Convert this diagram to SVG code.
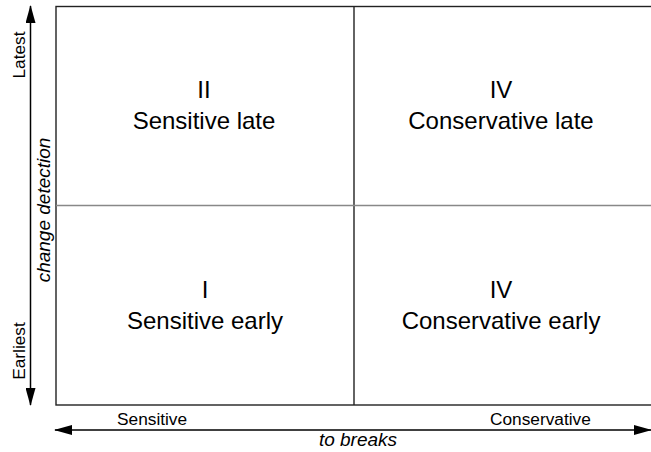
<svg xmlns="http://www.w3.org/2000/svg" width="651" height="452" viewBox="0 0 651 452">
  <style>
    text { font-family: "Liberation Sans", Arial, sans-serif; fill: #000; }
    .q { font-size: 24px; text-anchor: middle; }
    .ax { font-size: 17.3px; }
    .it { font-style: italic; font-size: 19px; text-anchor: middle; }
    .frame { fill: none; stroke: #222; stroke-width: 1.4; }
    .axis { stroke: #000; stroke-width: 1.5; fill: none; }
  </style>
  <defs>
    <marker id="head" viewBox="0 0 18 10" refX="17" refY="5" markerWidth="18" markerHeight="10" markerUnits="userSpaceOnUse" orient="auto-start-reverse">
      <path d="M0,0 L18,5 L0,10 Z" fill="#000"/>
    </marker>
  </defs>

  <!-- quadrant frame -->
  <g id="grid">
    <rect class="frame" x="56" y="6.5" width="600" height="398.5"/>
    <line x1="354" y1="6.5" x2="354" y2="405" stroke="#222" stroke-width="1.4"/>
    <line x1="56" y1="205.5" x2="651" y2="205.5" stroke="#888" stroke-width="1.4"/>
  </g>

  <g id="q-sensitive-late">
    <text class="q" x="204" y="98">II</text>
    <text class="q" x="204" y="129">Sensitive late</text>
  </g>
  <g id="q-conservative-late">
    <text class="q" x="501" y="98">IV</text>
    <text class="q" x="501" y="129">Conservative late</text>
  </g>
  <g id="q-sensitive-early">
    <text class="q" x="205" y="298">I</text>
    <text class="q" x="205" y="329">Sensitive early</text>
  </g>
  <g id="q-conservative-early">
    <text class="q" x="501" y="298">IV</text>
    <text class="q" x="501" y="329">Conservative early</text>
  </g>

  <!-- axes -->
  <g id="connectors">
    <line class="axis" x1="30.5" y1="204" x2="30.5" y2="6" marker-end="url(#head)"/>
    <line class="axis" x1="30.5" y1="204" x2="30.5" y2="405" marker-end="url(#head)"/>
    <line class="axis" x1="353" y1="430" x2="55" y2="430" marker-end="url(#head)"/>
    <line class="axis" x1="353" y1="430" x2="651" y2="430" marker-end="url(#head)"/>
  </g>

  <g id="axis-labels">
    <text class="ax" text-anchor="middle" transform="translate(25,55) rotate(-90)">Latest</text>
    <text class="ax" text-anchor="middle" transform="translate(25,351) rotate(-90)">Earliest</text>
    <text class="it" transform="translate(50,210) rotate(-90)">change detection</text>
    <text class="ax" x="117" y="425">Sensitive</text>
    <text class="ax" x="490" y="425">Conservative</text>
    <text class="it" x="358" y="446">to breaks</text>
  </g>
</svg>
